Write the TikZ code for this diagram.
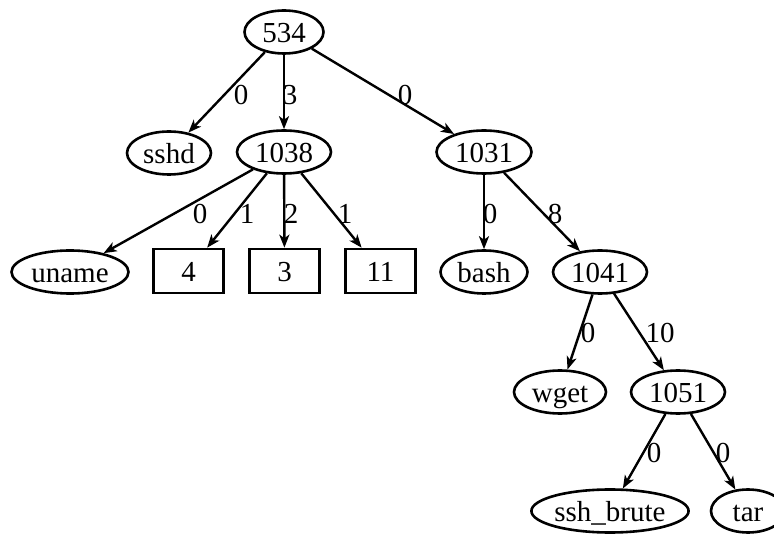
\documentclass[tikz,border=0pt]{standalone}
\usepackage{fontspec}
\setmainfont{Liberation Serif}
\usetikzlibrary{shapes.geometric,arrows.meta}
\tikzset{
  every node/.style={font=\fontsize{29}{31}\selectfont, inner sep=0pt},
  ell/.style={draw, ellipse, line width=2.6pt, minimum height=43pt, text height=22pt, text depth=0.5pt},
  sq/.style={draw, rectangle, line width=2.6pt, minimum width=70pt, minimum height=44pt, text height=22pt, text depth=0.5pt},
  edg/.style={line width=2.4pt, -{Stealth[length=13pt,width=10pt,inset=3.5pt]}},
  lbl/.style={}
}
\begin{document}
\begin{tikzpicture}[x=1pt,y=-1pt]
\path[use as bounding box, clip] (0,0) rectangle (774,534);
\node[ell, minimum width=79pt] (n534) at (284,32) {534};
\node[ell, minimum width=84pt] (sshd) at (169,153) {sshd};
\node[ell, minimum width=94pt] (n1038) at (284,152) {1038};
\node[ell, minimum width=95pt] (n1031) at (484,152) {1031};
\node[ell, minimum width=117pt] (uname) at (70,272) {uname};
\node[sq] (b4) at (188.5,271) {4};
\node[sq] (b3) at (284.5,271) {3};
\node[sq] (b11) at (380.5,271) {11};
\node[ell, minimum width=87pt] (bash) at (484,272) {bash};
\node[ell, minimum width=94pt] (n1041) at (600,272) {1041};
\node[ell, minimum width=92pt] (wget) at (560,392) {wget};
\node[ell, minimum width=94pt] (n1051) at (678,392) {1051};
\node[ell, minimum width=150pt] (sshb) at (610,511) {ssh\_brute};
\node[ell, minimum width=74pt] (tar) at (748,511) {tar};

\draw[edg] (n534) -- (sshd) node[lbl] at (241,95) {0};
\draw[edg] (n534) -- (n1038) node[lbl] at (290,95) {3};
\draw[edg] (n534) -- (n1031) node[lbl] at (405,95) {0};
\draw[edg] (n1038) -- (uname) node[lbl] at (200,214) {0};
\draw[edg] (n1038) -- (b4) node[lbl] at (247,214) {1};
\draw[edg] (n1038) -- (b3) node[lbl] at (291,214) {2};
\draw[edg] (n1038) -- (b11) node[lbl] at (345,214) {1};
\draw[edg] (n1031) -- (bash) node[lbl] at (490,214) {0};
\draw[edg] (n1031) -- (n1041) node[lbl] at (555,214) {8};
\draw[edg] (n1041) -- (wget) node[lbl] at (588,333) {0};
\draw[edg] (n1041) -- (n1051) node[lbl] at (660,333) {10};
\draw[edg] (n1051) -- (sshb) node[lbl] at (654,453) {0};
\draw[edg] (n1051) -- (tar) node[lbl] at (723,453) {0};
\end{tikzpicture}
\end{document}
